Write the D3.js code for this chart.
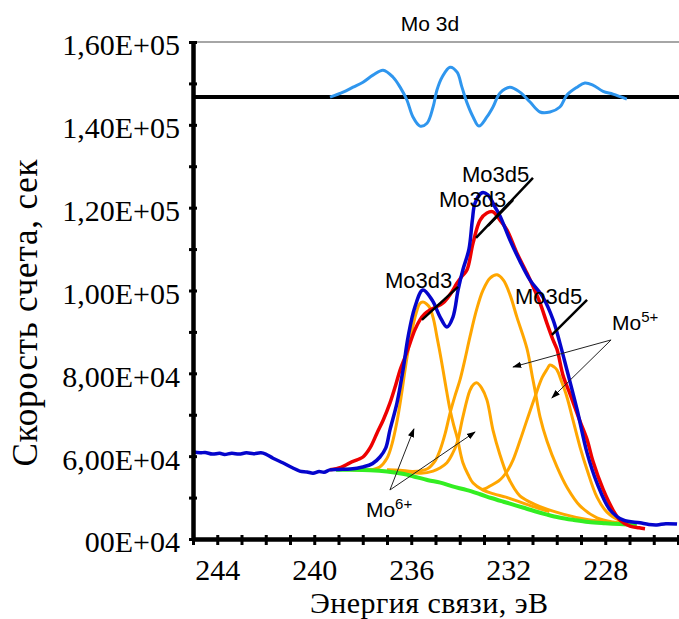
<!DOCTYPE html>
<html lang="ru">
  <head>
    <meta charset="UTF-8">
    <title>Mo 3d</title>
    <style>
body {margin: 0; background: #fff;}
.serif {font-family: "Liberation Serif", "Times New Roman", serif;}
.sans {font-family: "Liberation Sans", Arial, sans-serif;}
</style>
  </head>
  <body>
<div id="chart"></div>
<script src="https://d3js.org/d3.v7.min.js"></script>
<script>

// experimental spectrum [binding energy eV, counts]
var measured = [
  [245.0, 61000], [244.7, 60800], [244.5, 60900], [244.2, 60500], [243.9, 60700],
  [243.7, 60400], [243.4, 60700], [243.1, 60500], [242.8, 60800], [242.5, 60600],
  [242.2, 60800], [242.0, 60500], [241.7, 59500], [241.3, 58400], [240.9, 57200],
  [240.6, 56400], [240.3, 56200], [240.05, 55900], [239.8, 56300], [239.6, 56100],
  [239.35, 56700], [239.0, 56800], [238.5, 56900], [238.0, 57400], [237.6, 58200],
  [237.29, 59800], [237.05, 62000], [236.88, 66300], [236.59, 72800], [236.34, 80800],
  [236.13, 88800], [235.85, 96000], [235.52, 100100], [235.14, 97700], [234.81, 93600],
  [234.53, 91200], [234.28, 93600], [234.07, 100100], [233.87, 105000], [233.62, 110000],
  [233.48, 117000], [233.37, 121100], [233.08, 123600], [232.84, 123100], [232.55, 120200],
  [232.34, 118000], [231.93, 112200], [231.52, 107100], [231.1, 102500], [230.57, 98400],
  [230.15, 92900], [229.87, 87300], [229.58, 80800], [229.16, 71200], [228.75, 60800],
  [228.34, 53500], [227.8, 47000], [227.27, 44600], [226.57, 43900], [226.2, 43500],
  [225.87, 43400], [225.5, 43700], [225.04, 43600]
];

// fitted envelope
var envelope = [
  [239.35, 56700], [238.9, 57300], [238.53, 58400], [238.2, 59200], [237.99, 59800],
  [237.7, 62000], [237.41, 65600], [237.15, 68800], [236.88, 72800], [236.65, 77000],
  [236.46, 80800], [236.25, 84000], [236.05, 87300], [235.85, 90500], [235.64, 92900],
  [235.45, 94300], [235.23, 95300], [234.98, 96000], [234.69, 97000], [234.4, 99000],
  [234.11, 101800], [233.9, 103500], [233.7, 105000], [233.45, 111500], [233.16, 117000],
  [232.88, 118700], [232.63, 119000], [232.34, 117000], [232.05, 114600], [231.64, 109000],
  [231.23, 104200], [230.98, 101000], [230.69, 97000], [230.4, 92000], [230.15, 88000],
  [229.99, 85800], [229.74, 79500], [229.45, 75000], [229.04, 68400], [228.75, 64000],
  [228.51, 58800], [228.09, 52000], [227.68, 47000], [227.4, 44600], [226.98, 43100],
  [226.6, 42700], [226.36, 42500]
];

// Shirley background
var background = [
  [239.1, 56700], [238.5, 56700], [237.7, 56600], [237.0, 56300], [236.3, 55700],
  [235.9, 55100], [235.3, 54200], [234.8, 53600], [234.3, 52700], [233.7, 51800],
  [233.16, 50800], [232.7, 49900], [232.2, 49000], [231.8, 48300], [231.4, 47600],
  [230.9, 46700], [230.4, 45900], [229.9, 45200], [229.3, 44600], [228.7, 44100],
  [228.0, 43800], [227.4, 43600], [226.7, 43400]
];

// components (Mo6+ doublet, Mo5+ doublet)
var peakA = [
  [238.5, 56700], [237.7, 56700], [237.3, 57400], [237.0, 59500], [236.8, 62800],
  [236.6, 68000], [236.4, 75000], [236.2, 83000], [236.0, 89500], [235.8, 94500],
  [235.65, 96800], [235.52, 97200], [235.38, 96800], [235.23, 95800], [235.08, 93000],
  [234.94, 88800], [234.81, 84800], [234.69, 80800], [234.55, 76000], [234.4, 71200],
  [234.25, 67500], [234.11, 64600], [233.87, 58400], [233.65, 55500], [233.45, 53500],
  [233.04, 51800], [232.6, 50900], [232.1, 50100], [231.5, 48900], [230.9, 47700],
  [230.3, 46600]
];
var peakB = [
  [237.0, 56600], [236.3, 56300], [235.6, 55900], [235.1, 56400], [234.8, 57200],
  [234.53, 58400], [234.3, 60600], [234.11, 63200], [233.87, 69500], [233.58, 75900],
  [233.42, 77400], [233.29, 77700], [233.1, 76500], [232.88, 73600], [232.63, 66300],
  [232.34, 60300], [232.05, 55500], [231.75, 52200], [231.52, 50400], [231.1, 48900],
  [230.69, 47800], [229.74, 46000], [228.75, 44700], [227.8, 44100]
];
var peakC = [
  [237.0, 56700], [236.46, 56600], [235.93, 56300], [235.35, 56900], [235.0, 59000],
  [234.81, 61500], [234.6, 65500], [234.4, 70400], [234.2, 74500], [233.99, 78400],
  [233.8, 83000], [233.58, 88800], [233.3, 95500], [233.04, 100100], [232.75, 103000],
  [232.46, 103800], [232.2, 102500], [231.93, 99000], [231.64, 93500], [231.23, 86000],
  [231.0, 79000], [230.9, 76000], [230.69, 69500], [230.4, 63600], [229.99, 57400],
  [229.58, 52500], [229.04, 48000], [228.34, 45100], [227.68, 44100], [227.0, 43800]
];
var peakD = [
  [233.1, 51900], [232.9, 52300], [232.75, 52800], [232.4, 54000],
  [232.22, 55000], [232.0, 56800], [231.8, 59100], [231.5, 64000], [231.23, 68700],
  [230.9, 74300], [230.6, 79000], [230.4, 81000], [230.28, 82000], [230.1, 81500],
  [229.99, 80800], [229.8, 78000], [229.58, 74300], [229.33, 68700], [229.04, 62200],
  [228.75, 56700], [228.34, 50100], [227.93, 46500], [227.39, 44500], [226.69, 43900]
];

// residual (measured - fit), drawn on the level residualZero
var residualZero = 146700;
var residual = [
  [239.35, 0], [238.81, 1200], [238.4, 2400], [237.99, 3600], [237.58, 5300],
  [237.16, 6500], [236.75, 4800], [236.46, 2400], [236.18, -700], [235.93, -4800],
  [235.64, -7000], [235.35, -6300], [235.1, -2400], [234.94, 1700], [234.73, 4800],
  [234.4, 7200], [234.11, 6000], [233.91, 2400], [233.7, -1400], [233.45, -4800],
  [233.21, -7000], [232.88, -4800], [232.63, -2400], [232.34, 1000], [231.93, 2400],
  [231.52, 1200], [231.1, -1200], [230.69, -3600], [230.28, -3600], [229.87, -2400],
  [229.58, 500], [229.16, 2400], [228.84, 3400], [228.51, 2900], [228.09, 1400],
  [227.68, 700], [227.11, -500]
];

// axis ticks
var energyLabels = [244, 240, 236, 232, 228];
var countTicks = [40000, 60000, 80000, 100000, 120000, 140000, 160000];
var countLabels = ["00E+04", "6,00E+04", "8,00E+04", "1,00E+05", "1,20E+05", "1,40E+05", "1,60E+05"];

// peak labels: [text, E, counts]
var peakLabels = [
  ["Mo3d5", 233.91, 126200],
  ["Mo3d3", 234.86, 120180],
  ["Mo3d3", 237.08, 100600],
  ["Mo3d5", 231.72, 96750]
];
// leader lines: [E1, C1, E2, C2]
var leaders = [
  [230.98, 127180, 233.33, 112690],
  [231.80, 121870, 232.84, 115590],
  [234.07, 100860, 235.56, 92890],
  [228.75, 97720, 230.20, 89270]
];
// arrows for the oxidation states
var arrows5 = [[227.76, 88060, 231.80, 81540], [227.76, 88060, 230.20, 74050]];
var arrows6 = [[236.88, 51830, 235.89, 66570], [236.88, 51830, 233.37, 65840]];


var W = 679, H = 619;
var plotLeft = 193, plotRight = 678, plotTop = 42, plotBottom = 539;

var svg = d3.select("#chart")
  .append("svg")
    .attr("width", W)
    .attr("height", H);

var x = d3.scaleLinear().domain([245, 225]).range([plotLeft, plotRight]);
var y = d3.scaleLinear().domain([40000, 160000]).range([plotBottom, plotTop]);

svg.append("defs").append("marker")
    .attr("id", "arrow")
    .attr("viewBox", "0 0 10 10")
    .attr("refX", 9).attr("refY", 5)
    .attr("markerWidth", 9).attr("markerHeight", 9)
    .attr("markerUnits", "userSpaceOnUse")
    .attr("orient", "auto")
  .append("path")
    .attr("d", "M0,1.5 L10,5 L0,8.5 z")
    .attr("fill", "#000");

// top frame line
svg.append("line")
  .attr("x1", plotLeft).attr("x2", W)
  .attr("y1", y(160000)).attr("y2", y(160000))
  .attr("stroke", "#888").attr("stroke-width", 1.5);

var line = d3.line()
  .x(function(d) { return x(d[0]); })
  .y(function(d) { return y(d[1]); })
  .curve(d3.curveCatmullRom.alpha(0.5));

function draw(data, color, w) {
  svg.append("path")
    .datum(data)
    .attr("d", line)
    .attr("fill", "none")
    .attr("stroke", color)
    .attr("stroke-width", w)
    .attr("stroke-linejoin", "round");
}

// residual
svg.append("line")
  .attr("x1", plotLeft).attr("x2", W)
  .attr("y1", y(residualZero)).attr("y2", y(residualZero))
  .attr("stroke", "#000").attr("stroke-width", 4);
draw(residual.map(function(d) { return [d[0], residualZero + d[1]]; }), "#2f96ee", 3);

[peakA, peakB, peakC, peakD].forEach(function(p) { draw(p, "#ffa600", 3); });
draw(background, "#33ee22", 4);
draw(envelope, "#ee0000", 3.5);
draw(measured, "#0505cc", 3.5);

// axes
var yAxis = svg.append("g")
  .attr("class", "serif")
  .attr("transform", "translate(" + plotLeft + ",0)")
  .call(d3.axisLeft(y)
    .tickValues(d3.range(40000, 160001, 10000))
    .tickSize(4).tickSizeOuter(0).tickPadding(9)
    .tickFormat(function(d) {
      var i = countTicks.indexOf(d);
      return i < 0 ? "" : countLabels[i];
    }));
svg.append("g")
  .attr("transform", "translate(" + plotLeft + ",0)")
  .call(d3.axisRight(y).tickValues(d3.range(40000, 160001, 10000))
    .tickSize(4).tickSizeOuter(0).tickFormat(""));

var xAxis = svg.append("g")
  .attr("class", "serif")
  .attr("transform", "translate(0," + plotBottom + ")")
  .call(d3.axisBottom(x)
    .tickValues(d3.range(225, 246, 1))
    .tickSize(6).tickSizeOuter(0).tickPadding(14)
    .tickFormat(function(d) { return energyLabels.indexOf(d) < 0 ? "" : d; }));
svg.append("g")
  .attr("transform", "translate(0," + plotBottom + ")")
  .call(d3.axisTop(x).tickValues(d3.range(225, 246, 1))
    .tickSize(4).tickSizeOuter(0).tickFormat(""));

svg.selectAll(".domain").attr("stroke", "#000").attr("stroke-width", 4);
svg.selectAll(".tick line").attr("stroke", "#000").attr("stroke-width", 3);
yAxis.selectAll("text").attr("font-size", 30).attr("dy", "0.43em").attr("fill", "#000");
xAxis.selectAll("text").attr("font-size", 30).attr("fill", "#000");

// axis titles
svg.append("text")
  .attr("class", "serif")
  .attr("x", 429).attr("y", 613)
  .attr("text-anchor", "middle")
  .attr("font-size", 30)
  .attr("textLength", 238)
  .text("Энергия связи, эВ");

svg.append("text")
  .attr("class", "serif")
  .attr("transform", "translate(37,313) rotate(-90)")
  .attr("text-anchor", "middle")
  .attr("font-size", 35)
  .attr("textLength", 307)
  .text("Скорость счета, сек");

svg.append("text")
  .attr("class", "sans")
  .attr("x", 430).attr("y", 31)
  .attr("text-anchor", "middle")
  .attr("font-size", 21)
  .text("Mo 3d");

// peak labels and leaders
peakLabels.forEach(function(d) {
  svg.append("text")
    .attr("class", "sans")
    .attr("x", x(d[1])).attr("y", y(d[2]))
    .attr("font-size", 22)
    .text(d[0]);
});
leaders.forEach(function(d) {
  svg.append("line")
    .attr("x1", x(d[0])).attr("y1", y(d[1]))
    .attr("x2", x(d[2])).attr("y2", y(d[3]))
    .attr("stroke", "#000").attr("stroke-width", 2.5);
});
arrows5.concat(arrows6).forEach(function(d) {
  svg.append("line")
    .attr("x1", x(d[0])).attr("y1", y(d[1]))
    .attr("x2", x(d[2])).attr("y2", y(d[3]))
    .attr("stroke", "#222").attr("stroke-width", 1)
    .attr("marker-end", "url(#arrow)");
});

function ionLabel(px, py, charge) {
  var t = svg.append("text")
    .attr("class", "sans")
    .attr("x", px).attr("y", py)
    .attr("font-size", 21);
  t.append("tspan").text("Mo");
  t.append("tspan").attr("dy", -8).attr("font-size", 15).text(charge);
}
ionLabel(x(227.72), y(90470), "5+");
ionLabel(x(237.87), y(45300), "6+");

</script>
  </body>
</html>
